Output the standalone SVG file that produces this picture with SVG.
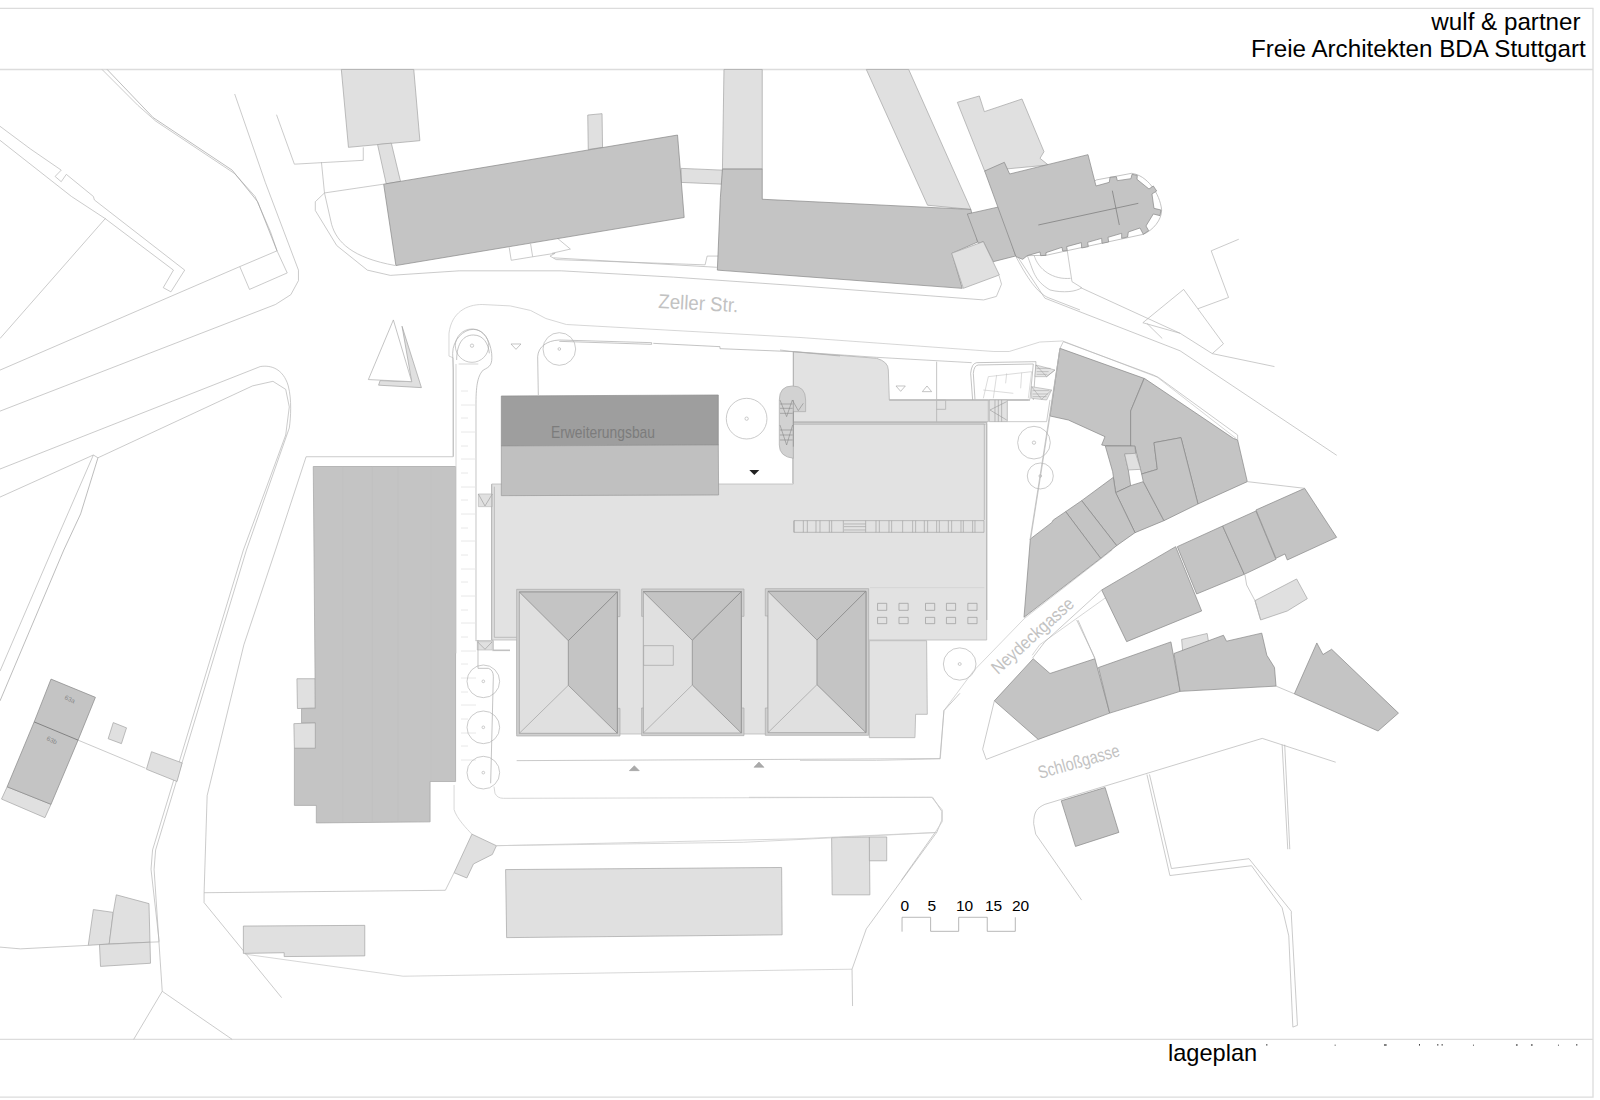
<svg xmlns="http://www.w3.org/2000/svg" width="1600" height="1100" viewBox="0 0 1600 1100">
<style>
*{vector-effect:non-scaling-stroke}
.n{fill:none;stroke:#b4b4b4;stroke-width:.7}
.v{fill:none;stroke:#cdcdcd;stroke-width:.8}
.s{fill:none;stroke:#a0a0a0;stroke-width:.7}
.t{fill:none;stroke:#aaa;stroke-width:.7}
.d{fill:#c4c4c4;stroke:#868686;stroke-width:.7}
.l{fill:#e0e0e0;stroke:#a4a4a4;stroke-width:.7}
.f{fill:#cfcfcf;stroke:#aaa;stroke-width:.7}
.w{fill:#fff;stroke:#aaa;stroke-width:.7}
.lab{font-family:"Liberation Sans",Arial,sans-serif;fill:#000}
.cad{font-family:"Liberation Sans",Arial,sans-serif;fill:#c2c2c2}
.tick{fill:none;stroke:#e2e2e2;stroke-width:.8}
</style>
<defs>
<g id="roofcore">
<polygon points="178,36 472,36 472,460 178,460" style="fill:#e0e0e0;stroke:#999;stroke-width:.7"/>
<polygon points="178,36 472,36 325,182" class="d"/>
<polygon points="472,36 325,182 325,316 472,460" class="d"/>
<path d="M178,460 L325,316" class="s"/>
</g>
<g id="tree"><circle r="49" class="n"/><circle r="4" class="n"/></g>
</defs>
<rect width="1600" height="1100" fill="#fff"/>

<g id="frame" fill="none" stroke="#dcdcdc" stroke-width="1.3">
<path d="M0,8.4 H1593 V1097.2 H0"/>
<path d="M0,69.5 H1593"/>
<path d="M0,1039.3 H1593"/>
</g>

<g id="roads">
<g transform="scale(.5102,.3508)">
<path class="n" d="M200,198 L270,300 L305,345 L460,495 L500,560 L530,660 L543,715 L470,760 L0,1055"/>
<path class="s" d="M210,198 L300,335 L455,485 L505,575 L543,715"/>
<path class="n" d="M460,268 L520,520 L585,770 L585,800 L570,840 L540,868 L0,1172"/>
<path class="n" d="M470,760 L489,825 L563,778 L543,715"/>
<path class="n" d="M0,360 L60,425 L120,485 L108,503 L120,518 L130,497 L183,560 L185,570 L362,770 L335,832 L320,820 L340,770 L205,622 L140,560 L0,400"/>
<path class="n" d="M207,622 L0,965"/>
<path class="n" d="M0,1337 L510,1045 C530,1040 555,1050 565,1100 C572,1140 570,1190 567,1220 L483,1568 L305,2423 L302,2478 L318,2826"/>
<path class="n" d="M192,1305 L495,1100 L535,1087 L560,1110 L567,1160 L560,1240 L477,1568 L299,2423 L296,2478 L312,2684"/>
<path class="n" d="M0,1417 L183,1297 L102,1568 L0,1913"/>
<path class="s" d="M192,1305 L158,1465 L125,1568 L0,1998"/>
<path class="n" d="M183,1297 L192,1305"/>
<path class="n" d="M540,1568 L600,1302 L888,1302"/>
<path class="n" d="M540,1568 L478,1838 L406,2268 L400,2545 L400,2573 L552,2844"/>
<path class="n" d="M542,327 L577,468 L712,457 L712,420"/>
<path class="n" d="M630,462 L636,550 L752,525"/>
<path class="n" d="M636,550 L618,575 L618,600 L660,700 L720,770 L765,785 L900,772 L1100,772 L1320,790 L1568,815 L1928,855 L1953,845 L1963,810 L1958,785"/>
<path class="n" d="M636,550 L650,640 C660,690 690,735 775,757"/>
<path class="n" d="M998,705 L1002,742 L1044,732 L1040,695 M1044,732 L1088,722 L1078,730 L1090,740 L1382,755 L1386,730 L1410,730 M1090,676 L1118,710 L1082,722 M1085,735 L1382,760 L1405,762"/>
<path class="v" d="M888,1302 L888,1020 L880,1015 L880,950 C885,890 915,868 945,868 L1000,872 L1040,885 L1070,908 L1110,925 L1568,962 L1948,1002 L1978,1002 L2038,975 L2083,972 L2268,1075 L2423,1250"/>
<path class="n" d="M1996,735 L2048,850 L2313,1000 L2620,1298"/>
<path class="n" d="M2118,820 L2313,950 L2376,1008 L2498,1045 M2240,920 L2320,825 L2398,980 L2376,1008 M2348,880 L2408,848 L2374,715 L2428,682 M2240,920 L2313,950 M2248,922 L2278,965"/>
</g>
<g transform="translate(0,550) scale(.5102,.3508)">
<path class="n" d="M0,1132 L40,1137 L173,1127 M294,1118 L312,1117 M318,1258 L262,1395 M318,1258 L455,1395"/>
<path class="n" d="M153,542 L285,622"/>
<path class="n" d="M400,977 L873,970 L890,920"/>
<path class="v" d="M890,670 L890,740 C895,765 915,795 925,810 M973,843 L1568,823 L1836,805"/>
<path class="v" d="M480,1152 L790,1215 L1568,1197 L1670,1195"/>
</g>
<g transform="translate(800,550) scale(.5102,.3508)">
<path class="n" d="M102,1195 L103,1300 M260,705 L278,745 L278,770 L268,805 L130,1080 L102,1195"/>
<path class="v" d="M-100,705 L260,705"/>
<path class="v" d="M0,600 L150,600 L275,595 L282,458 L340,345 L440,195 L612,0"/>
<path class="v" d="M600,135 L470,270 L455,300"/>
<path class="n" d="M381,430 L358,568 L365,597 L467,540 M933,388 L969,410"/>
<path class="n" d="M458,780 C458,745 465,735 480,725 L906,537 L1050,605 M458,780 L462,810 L552,998"/>
<path class="n" d="M945,555 L956,853 M950,555 L960,853"/>
<path class="n" d="M680,640 L725,928 L885,900 L945,1020 L958,1100 L966,1360 L975,1355 L963,1040 L963,1030 L880,880 L728,908 L685,640"/>
<path class="n" d="M545,200 L578,310"/>
</g>
<g transform="translate(950,90) scale(.3333)">
<path class="n" d="M232,497 C250,540 250,570 300,600 C340,610 380,605 395,593 L366,575 L350,470"/>
<path class="n" d="M252,495 C265,540 310,570 362,565"/>
<path class="n" d="M198,500 C240,580 270,615 300,625 L390,660"/>
</g>
</g>

<g id="triangle-island" transform="scale(.5102,.3508)">
<polygon class="l" points="788,930 826,1105 742,1098 745,1085 807,1088"/>
<polygon class="w" points="771,912 807,1088 722,1082"/>
</g>

<g id="light-buildings">
<g transform="scale(.5102,.3508)">
<polygon class="l" points="669,198 811,198 823,401 683,420"/>
<polygon class="l" points="740,412 767,408 785,517 757,524"/>
<polygon class="l" points="1152,328 1180,324 1181,420 1153,426"/>
<polygon class="l" points="1335,480 1416,485 1416,525 1335,520"/>
<polygon class="l" points="1419,198 1494,198 1494,482 1416,482"/>
<polygon class="l" points="1698,198 1781,198 1903,597 1818,585"/>
</g>
<g transform="translate(950,90) scale(.3333)">
<polygon class="l" points="22,37 88,18 103,65 216,27 282,185 270,205 295,225 104,243"/>
</g>
<g transform="translate(0,550) scale(.5102,.3508)">
<polygon class="l" points="582,367 618,367 618,450 583,452"/>
<polygon class="l" points="14,675 100,725 88,763 3,710"/>
<polygon class="l" points="297,575 357,607 347,660 287,625"/>
<polygon class="l" points="222,492 248,507 238,552 212,538"/>
<polygon class="l" points="183,1025 222,1033 214,1123 173,1127"/>
<polygon class="l" points="228,983 292,1008 294,1118 214,1123 222,1033"/>
<polygon class="l" points="195,1125 294,1118 295,1178 197,1187"/>
<polygon class="l" points="925,810 973,843 965,868 928,895 915,935 890,920"/>
<polygon class="l" points="991,911 1532,905 1533,1097 993,1105"/>
<polygon class="l" points="477,1072 715,1070 715,1157 557,1159 557,1148 477,1150"/>
</g>
<g transform="translate(800,550) scale(.5102,.3508)">
<polygon class="l" points="62,820 136,818 137,983 63,983"/>
<polygon class="l" points="136,818 170,818 170,886 136,886"/>
<polygon class="l" points="748,255 798,238 802,272 750,288"/>
</g>
</g>

<g id="dark-buildings">
<g transform="scale(.5102,.3508)">
<polygon class="d" points="752,525 1328,385 1341,620 776,757"/>
<polygon class="d" points="1416,482 1494,482 1494,568 1903,597 1916,690 1866,722 1886,822 1406,770 1412,562"/>
</g>
<g transform="translate(950,90) scale(.3333)">
<polygon class="d" points="52,372 150,350 197,498 130,515 100,455 85,460"/>
<polygon class="l" points="5,490 100,455 148,555 40,595"/>
<path class="w" d="M438,270 L545,250 C590,255 630,310 635,360 C635,390 610,420 580,433 L352,482 L288,496 L232,497 L250,470 Z"/>
<polygon class="d" points="104,243 163,217 179,252 414,194 438,288 478,277 480,262 499,260 502,272 543,266 546,253 562,256 561,268 597,297 610,288 620,303 606,312 612,355 633,360 630,377 610,372 588,408 596,422 580,433 570,414 535,426 533,441 515,445 515,430 474,442 476,456 456,460 455,445 413,457 415,470 395,474 394,458 350,470 352,482 338,483 336,472 288,488 288,496 272,497 270,486 232,497 218,508 198,500"/>
<path class="s" d="M265,405 L565,340 M487,302 L508,405" style="stroke:#777"/>
</g>
<g transform="translate(0,550) scale(.5102,.3508)">
<polygon class="d" style="stroke:#a4a4a4" points="614,-238 893,-238 893,660 843,660 843,775 620,778 620,728 577,728 577,565 618,565 618,493 591,493 591,452 618,452"/>
<path d="M730,-238 V775 M845,-238 V660 M672,-238 V775 M780,-238 V775" style="fill:none;stroke:#bebebe;stroke-width:.5"/>
<polygon class="l" points="576,495 618,493 618,565 577,565"/>
<polygon class="d" points="100,368 187,420 153,542 100,725 14,675 67,490"/>
<path d="M67,490 L153,542" class="s" style="stroke:#666"/>
</g>
<g transform="translate(1000,340) scale(.3333)">
<polygon class="d" points="180,25 432,115 392,213 392,318 316,317 305,315 315,290 205,240 150,228"/>
<polygon class="d" points="433,115 700,295 713,300 742,425 594,492 543,293 462,308 472,388 425,402 405,320 392,318 392,213"/>
<polygon class="d" points="316,318 405,318 407,340 374,342 385,390 392,437 347,458 338,395"/>
<polygon class="l" points="374,342 407,340 422,388 385,390"/>
<polygon class="d" points="430,425 492,542 405,578 347,458 392,437 398,435"/>
<polygon class="d" points="425,402 472,388 462,308 543,293 594,492 492,542 430,425"/>
<polygon class="d" points="340,412 347,458 405,578 350,617 245,482"/>
<polygon class="d" points="245,482 350,617 302,655 197,515"/>
<polygon class="d" points="197,515 302,655 72,832 91,597 155,548 160,540"/>
<polygon class="d" points="305,750 527,620 605,813 380,905"/>
<polygon class="d" points="532,620 668,558 733,703 590,762"/>
<polygon class="d" points="668,558 768,513 828,658 733,703"/>
<polygon class="d" points="768,510 914,445 1010,592 862,660 855,642 828,655"/>
<polygon class="l" points="765,782 890,717 922,776 862,813 782,840"/>
<path class="n" d="M735,705 L740,735 L765,782 L782,840 M742,425 L914,445 M230,840 L285,955 M305,750 L135,905 L97,955 M180,25 L150,228 L92,597 M180,25 L190,5 L460,105 L475,112 L713,285 L713,300"/>
</g>
<g transform="translate(800,550) scale(.5102,.3508)">
<polygon class="d" points="457,310 490,352 578,310 607,465 467,540 381,430"/>
<polygon class="d" points="585,335 727,262 745,403 607,465"/>
<polygon class="d" points="733,295 830,243 836,260 905,237 915,300 930,335 933,388 745,403"/>
<polygon class="d" points="1013,265 1025,298 1042,283 1173,465 1133,516 969,410"/>
<polygon class="d" points="512,715 598,677 625,805 540,845"/>
</g>
</g>

<g id="school-complex">
<polygon points="491.7,484 793.3,484 793.3,424 986.7,424 986.7,640 868,640 868,734 517,734 517,640 491.7,640" style="fill:#e2e2e2;stroke:#bbb;stroke-width:.8"/>
<g transform="translate(440,320) scale(.3333)">
<path class="t" d="M163,500 L163,952 L230,952"/>
</g>
<g transform="translate(460,580) scale(.3333)">
<polygon points="1228,182 1400,182 1402,403 1367,403 1365,473 1228,473" style="fill:#e2e2e2;stroke:#b4b4b4;stroke-width:.8"/>
</g>
<g transform="translate(780,320) scale(.3333)">
<path d="M40,95 L290,115 Q325,125 325,150 L328,240 L625,240 L625,305 L40,305 Z" style="fill:#e2e2e2;stroke:#b4b4b4;stroke-width:.8"/>
<path d="M38,308 H620 V900" style="fill:none;stroke:#bbb;stroke-width:1.3"/>
<path d="M40,95 V305 M470,125 V305" class="t"/>
<path d="M470,240 H497 V268 H470" class="t"/>
<path d="M38,312 H613 V600 M38,312 V490" class="t"/>
<path d="M42,602 H612 V637 H42 Z M42,602 V637 M70,602 V637 M82,602 V637 M108,602 V637 M120,602 V637 M148,602 V637 M155,602 V637 M190,602 V637 M257,602 V637 M288,602 V637 M298,602 V637 M327,602 V637 M335,602 V637 M368,602 V637 M398,602 V637 M407,602 V637 M433,602 V637 M443,602 V637 M470,602 V637 M478,602 V637 M505,602 V637 M515,602 V637 M543,602 V637 M550,602 V637 M578,602 V637 M585,602 V637 M192,612 H257 M192,620 H257 M192,630 H257" style="fill:none;stroke:#989898;stroke-width:.6"/>
<path d="M270,803 H613" style="fill:none;stroke:#d2d2d2;stroke-width:.8"/>
<path d="M328,240 H750" style="fill:none;stroke:#bbb;stroke-width:1.3"/>
<path d="M578,240 L572,160 Q575,130 590,128 L768,125 L760,240 M585,238 L580,160 Q582,136 595,135 L760,132 L750,238" class="t"/>
<path d="M610,235 L625,170 L755,155 L745,235 M650,165 L640,235 M680,160 L677,190 M725,158 L722,205 M610,210 L700,220" style="fill:none;stroke:#c4c4c4;stroke-width:.6"/>
<polygon points="768,135 825,150 800,170 765,170" fill="#e6e6e6" stroke="#aaa" stroke-width=".6"/>
<polygon points="755,200 815,210 800,240 755,235" fill="#e6e6e6" stroke="#aaa" stroke-width=".6"/>
<path d="M768,135 L800,170 L825,150 M755,200 L785,238 L815,210 M770,145 H812 M770,155 H806 M770,163 H802 M758,212 H808 M758,222 H804 M758,230 H800" style="fill:none;stroke:#999;stroke-width:.5"/>
<rect x="628" y="240" width="54" height="65" fill="#e2e2e2" stroke="#aaa" stroke-width=".7"/>
<path d="M680,245 L630,270 L680,300 M645,240 V305 M655,240 V305 M665,240 V305" style="fill:none;stroke:#999;stroke-width:.6"/>
<path d="M682,305 H800 L810,240 M682,240 H745" class="n"/>
<path d="M840,85 L750,660" class="n"/>
<polygon points="348,198 376,198 362,214" class="t"/>
<polygon points="427,215 455,215 441,198" class="t"/>
<path d="M0,90 L40,95 L290,112 L575,128" class="n"/>
<g transform="translate(762,368)"><circle r="49" class="n"/><circle r="5" class="n"/></g>
<g transform="translate(781,468)"><circle r="39" class="n"/><circle r="4" class="n"/></g>
</g>
<g transform="translate(440,320) scale(.3333)">
<polygon points="184,228 835,225 835,375 184,378" style="fill:#9e9e9e;stroke:#8c8c8c;stroke-width:.7"/>
<polygon points="184,378 835,375 836,525 184,527" style="fill:#c0c0c0;stroke:#9a9a9a;stroke-width:.7"/>
<path class="t" d="M295,225 L293,110 C295,80 320,62 358,60 L635,68 L635,73 L358,64 M640,70 L840,80 L840,86 L1060,95 L1200,108"/>
<path d="M1018,240 Q1018,198 1057,198 Q1097,198 1097,240 L1097,275 L1060,275 L1060,415 Q1018,410 1018,375 Z" style="fill:#d2d2d2;stroke:#aaa;stroke-width:.7"/>
<path d="M1020,240 L1040,290 L1057,240 L1075,272 L1090,250 M1020,315 L1040,375 L1058,315 M1020,252 H1058 M1020,265 H1058 M1020,280 H1058 M1020,330 H1058 M1020,345 H1058 M1020,360 H1058 M1060,240 V380" style="fill:none;stroke:#888;stroke-width:.6"/>
<polygon points="928,450 958,450 943,465" fill="#222"/>
<polygon points="213,72 243,72 228,88" class="t"/>
<g transform="translate(96,77)"><circle r="50" class="n"/><circle r="5" class="n"/></g>
<g transform="translate(358,87)"><use href="#tree"/></g>
<g transform="translate(920,296)"><circle r="61" class="n"/><circle r="5" class="n"/></g>
<path class="t" d="M40,410 L40,150 L38,100 C38,60 70,28 100,28 C130,28 150,60 155,100 C158,135 150,140 130,150 C115,165 108,190 108,250 L108,960"/>
<path class="t" d="M50,120 C50,70 70,45 100,45 C130,45 145,70 148,100"/>
<path class="v" d="M48,132 L48,1000 M56,132 H115"/>
<polygon points="115,522 157,522 157,560 115,560" class="l" style="stroke:#bbb"/>
<path d="M115,522 L135,558 L157,522" class="s"/>
<polygon points="112,965 157,965 157,990 112,990" class="l" style="stroke:#bbb"/>
<path d="M112,965 L135,988 L157,965" class="s"/>
<path class="t" d="M155,493 V960"/>
<path class="t" d="M157,992 H210 M106,962 H160"/>
</g>
<path class="tick" d="M461,391 H468 M461,405 H476 M461,418 H468 M461,432 H476 M461,446 H468 M461,459 H476 M461,473 H468 M461,487 H476 M461,500 H468 M461,514 H476 M461,528 H468 M461,541 H476 M461,555 H468 M461,569 H476 M461,582 H468 M461,596 H476 M461,610 H468 M461,623 H476 M461,637 H468 M461,651 H476 M461,664 H468 M461,678 H476 M461,692 H468 M461,705 H476 M461,719 H468 M461,733 H476 M461,746 H468 M461,760 H476"/>
<g transform="translate(460,580) scale(.3333)">
<polygon points="170,28 480,28 480,110 472,110 472,385 480,385 480,468 170,468" class="f"/>
<polygon points="545,27 852,27 852,109 844,109 844,384 852,384 852,467 545,467 545,384 553,384 553,109 545,109" class="f"/>
<polygon points="916,26 1226,26 1226,466 916,466 916,384 924,384 924,108 916,108" class="f"/>
<use href="#roofcore"/>
<use href="#roofcore" transform="translate(372,-1)"/>
<use href="#roofcore" transform="translate(746,-2)"/>
<rect x="551" y="197" width="89" height="59" class="l"/>
<path class="v" d="M170,542 L1440,536 L1452,392 L1500,340" style="stroke:#bbb"/>
<polygon points="508,572 538,572 523,557" fill="#aaa" stroke="#999" stroke-width=".5"/>
<polygon points="882,562 912,562 897,546" fill="#aaa" stroke="#999" stroke-width=".5"/>
<path class="v" d="M102,620 L105,640 Q112,655 130,655 L1415,652 L1447,690 L1447,725 L1425,758 L850,787 L110,797"/>
<path class="n" d="M1425,758 L1325,900"/>
<use href="#tree" x="70" y="304"/>
<use href="#tree" x="70" y="442"/>
<use href="#tree" x="70" y="578"/>
<path class="t" d="M54,180 V265 H85 Q100,270 100,290 L92,610 M100,182 V210 H150"/>
</g>
<g transform="translate(800,550) scale(.5102,.3508)">
<path class="t" d="M152,152 H170 V172 H152 Z M194,152 H212 V172 H194 Z M246,152 H264 V172 H246 Z M287,152 H305 V172 H287 Z M329,152 H347 V172 H329 Z M152,192 H170 V210 H152 Z M194,192 H212 V210 H194 Z M246,192 H264 V210 H246 Z M287,192 H305 V210 H287 Z M329,192 H347 V210 H329 Z" style="stroke:#999"/>
<ellipse cx="313" cy="325" rx="32" ry="46" class="n"/>
<ellipse cx="313" cy="325" rx="3" ry="4" class="n"/>
<path d="M200,1088 V1047 H256 V1087 H311 V1047 H367 V1087 H422 V1047" class="s" style="stroke:#999"/>
</g>
</g>

<g id="labels">
<text class="lab" x="1580.6" y="30" font-size="24.2" text-anchor="end">wulf &amp; partner</text>
<text class="lab" x="1585.7" y="56.5" font-size="24.2" text-anchor="end">Freie Architekten BDA Stuttgart</text>
<text class="lab" x="1168" y="1061" font-size="23.6">lageplan</text>
<g class="scale-text">
<text class="lab" x="900.5" y="911" font-size="15.5">0</text>
<text class="lab" x="927.5" y="911" font-size="15.5">5</text>
<text class="lab" x="956" y="911" font-size="15.5">10</text>
<text class="lab" x="985" y="911" font-size="15.5">15</text>
<text class="lab" x="1012" y="911" font-size="15.5">20</text>
</g>
<text class="cad" x="658" y="308" font-size="20" textLength="80" lengthAdjust="spacingAndGlyphs" transform="rotate(3 658 308)">Zeller Str.</text>
<text x="551" y="438" font-size="17" textLength="104" lengthAdjust="spacingAndGlyphs" style="font-family:'Liberation Sans',Arial,sans-serif;fill:#7c7c7c">Erweiterungsbau</text>
<text class="cad" x="998" y="675" font-size="18" textLength="104" lengthAdjust="spacingAndGlyphs" transform="rotate(-42 998 675)">Neydeckgasse</text>
<text class="cad" x="1040" y="779" font-size="18" textLength="84" lengthAdjust="spacingAndGlyphs" transform="rotate(-16 1040 779)">Schloßgasse</text>
<text x="64" y="699" font-size="6.5" transform="rotate(25 64 699)" style="font-family:'Liberation Sans',Arial,sans-serif;fill:#888">63a</text>
<text x="46" y="740" font-size="6.5" transform="rotate(25 46 740)" style="font-family:'Liberation Sans',Arial,sans-serif;fill:#888">63b</text>
</g>

<g id="clipped-marks" transform="translate(1150,1030) scale(.3333)" fill="#444">
<rect x="349" y="42" width="3" height="5"/><rect x="554" y="44" width="3" height="3"/><rect x="702" y="43" width="8" height="4"/><rect x="807" y="42" width="3" height="5"/><rect x="862" y="42" width="3" height="5"/><rect x="875" y="42" width="3" height="5"/><rect x="969" y="44" width="3" height="3"/><rect x="1098" y="43" width="5" height="4"/><rect x="1143" y="43" width="5" height="4"/><rect x="1224" y="44" width="3" height="3"/><rect x="1279" y="42" width="3" height="5"/>
</g>
</svg>
